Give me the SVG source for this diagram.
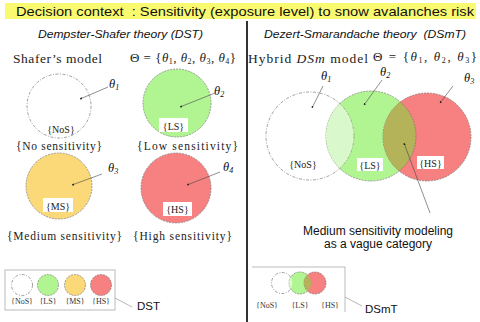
<svg xmlns="http://www.w3.org/2000/svg" width="480" height="322" viewBox="0 0 480 322">
<style>
.sans{font-family:"Liberation Sans",Arial,sans-serif;fill:#111}
.serif{font-family:"Liberation Serif","DejaVu Serif",serif;fill:#222}
.th{font-family:"Liberation Serif","DejaVu Serif",serif;font-style:italic;font-size:12.5px;fill:#111}
.lab{font-family:"Liberation Serif","DejaVu Serif",serif;font-size:10px;fill:#222;text-anchor:middle}
.sm{font-family:"Liberation Serif","DejaVu Serif",serif;font-size:8px;fill:#333;text-anchor:middle}
.cw{fill:#fff;stroke:#777;stroke-width:0.7;stroke-dasharray:3 1.5 1 1.5}
.cg{fill:#b1f592;stroke:#666;stroke-width:0.6;stroke-dasharray:2 1}
.cy{fill:#fbd878;stroke:#666;stroke-width:0.6;stroke-dasharray:2 1}
.cr{fill:#f78080;stroke:#666;stroke-width:0.6;stroke-dasharray:2 1}
.ptr{stroke:#444;stroke-width:0.6;fill:none;marker-end:url(#ah)}
.lead{stroke:#999;stroke-width:0.7;fill:none}
</style>
<defs>
<marker id="ah" viewBox="0 0 6 6" refX="5" refY="3" markerWidth="4" markerHeight="4" orient="auto">
<path d="M0,0 L6,3 L0,6 z" fill="#222"/>
</marker>
<clipPath id="clipW"><circle cx="310" cy="136" r="44"/></clipPath>
<clipPath id="clipG"><circle cx="371" cy="136" r="45"/></clipPath>
<clipPath id="clipR"><circle cx="427" cy="137" r="44"/></clipPath>
<clipPath id="clipWs"><circle cx="282" cy="283" r="10.5"/></clipPath>
<clipPath id="clipRs"><circle cx="315" cy="283" r="11"/></clipPath>
</defs>

<g id="title">
<rect x="5" y="3" width="471" height="16" fill="#fafa70"/>
<text class="sans" x="16" y="15.5" font-size="13.5" textLength="458" lengthAdjust="spacingAndGlyphs">Decision context&#160; : Sensitivity (exposure level) to snow avalanches risk</text>
</g>

<g id="divider"><line x1="247" y1="21" x2="247" y2="322" stroke="#333" stroke-width="2"/></g>

<g id="dst-header">
<text class="sans" x="38" y="38" font-size="11.5" font-style="italic" textLength="165" lengthAdjust="spacingAndGlyphs">Dempster-Shafer theory (DST)</text>
<text class="serif" x="13" y="63" font-size="13.5" textLength="89">Shafer’s model</text>
<text class="serif" x="130" y="62" font-size="13" textLength="106"><tspan>Θ = {</tspan><tspan font-style="italic">θ</tspan><tspan font-size="8" dy="2">1</tspan><tspan dy="-2">, </tspan><tspan font-style="italic">θ</tspan><tspan font-size="8" dy="2">2</tspan><tspan dy="-2">, </tspan><tspan font-style="italic">θ</tspan><tspan font-size="8" dy="2">3</tspan><tspan dy="-2">, </tspan><tspan font-style="italic">θ</tspan><tspan font-size="8" dy="2">4</tspan><tspan dy="-2">}</tspan></text>
</g>

<g id="dst-nos">
<circle class="cw" cx="59" cy="106" r="32"/>
<text class="lab" x="61" y="133">{NoS}</text>
<text class="serif" x="16" y="150" font-size="11.5" textLength="86">{No sensitivity}</text>
<text class="th" x="109" y="88">θ<tspan font-size="8" dy="2">1</tspan></text>
</g>
<g id="dst-ls">
<circle class="cg" cx="177" cy="103" r="34"/>
<rect x="159" y="118" width="29" height="14" fill="#fff"/>
<text class="lab" x="173.5" y="129.5">{LS}</text>
<text class="serif" x="137" y="150" font-size="11.5" textLength="101">{Low sensitivity}</text>
<text class="th" x="214" y="95">θ<tspan font-size="8" dy="2">2</tspan></text>
</g>
<g id="dst-ms">
<circle class="cy" cx="59" cy="186" r="33"/>
<rect x="43" y="198" width="30" height="14" fill="#fff"/>
<text class="lab" x="58" y="209.5">{MS}</text>
<text class="serif" x="7" y="240" font-size="11.5" textLength="115">{Medium sensitivity}</text>
<text class="th" x="108" y="172">θ<tspan font-size="8" dy="2">3</tspan></text>
</g>
<g id="dst-hs">
<circle class="cr" cx="176" cy="188" r="35"/>
<rect x="163" y="202" width="29" height="14" fill="#fff"/>
<text class="lab" x="177.5" y="213">{HS}</text>
<text class="serif" x="133" y="240" font-size="11.5" textLength="99">{High sensitivity}</text>
<text class="th" x="223" y="171">θ<tspan font-size="8" dy="2">4</tspan></text>
</g>

<g id="dsmt-header">
<text class="sans" x="264" y="38" font-size="11.5" font-style="italic" textLength="202" lengthAdjust="spacingAndGlyphs">Dezert-Smarandache theory&#160; (DSmT)</text>
<text class="serif" x="248" y="63" font-size="13.5" textLength="120">Hybrid <tspan font-style="italic">DSm</tspan> model</text>
<text class="serif" x="373" y="61" font-size="13" textLength="104">Θ = {<tspan font-style="italic">θ</tspan><tspan font-size="8" dy="2">1</tspan><tspan dy="-2">, </tspan><tspan font-style="italic">θ</tspan><tspan font-size="8" dy="2">2</tspan><tspan dy="-2">, </tspan><tspan font-style="italic">θ</tspan><tspan font-size="8" dy="2">3</tspan><tspan dy="-2">}</tspan></text>
</g>

<g id="dsmt-nos">
<circle class="cw" cx="310" cy="136" r="44"/>
<text class="th" x="321" y="80">θ<tspan font-size="8" dy="2">1</tspan></text>
</g>
<g id="dsmt-ls">
<circle class="cg" cx="371" cy="136" r="45"/>
<circle cx="371" cy="136" r="45" fill="#d9f8cb" clip-path="url(#clipW)"/>
<circle cx="310" cy="136" r="44" fill="none" stroke="#777" stroke-width="0.5" stroke-dasharray="3 1.5 1 1.5" clip-path="url(#clipG)"/>
<text class="th" x="380" y="76">θ<tspan font-size="8" dy="2">2</tspan></text>
</g>
<g id="dsmt-hs">
<circle class="cr" cx="427" cy="137" r="44"/>
<circle cx="371" cy="136" r="45" fill="#b4b35a" clip-path="url(#clipR)"/>
<circle cx="371" cy="136" r="45" fill="none" stroke="#666" stroke-width="0.5" stroke-dasharray="2 1" clip-path="url(#clipR)"/>
<text class="th" x="464" y="82">θ<tspan font-size="8" dy="2">3</tspan></text>
</g>
<g id="dsmt-labels">
<text class="lab" x="303" y="168">{NoS}</text>
<rect x="357" y="158" width="26" height="13" fill="#fff"/>
<text class="lab" x="370" y="168.5">{LS}</text>
<rect x="417" y="156" width="27" height="13" fill="#fff"/>
<text class="lab" x="430.5" y="166.5">{HS}</text>
</g>
<g id="dsmt-note">
<text class="sans" x="378" y="235" font-size="12" text-anchor="middle">Medium sensitivity modeling</text>
<text class="sans" x="378" y="248" font-size="12" text-anchor="middle">as a vague category</text>
</g>

<g id="legend-dst">
<rect x="5" y="270" width="110" height="40" fill="#fff" stroke="#aaa" stroke-width="0.8"/>
<circle class="cw" cx="22" cy="285" r="10.5"/>
<circle class="cg" cx="48" cy="285" r="10.5"/>
<circle class="cy" cx="75" cy="285" r="10.5"/>
<circle class="cr" cx="101" cy="285" r="10.5"/>
<text class="sm" x="22" y="304">{NoS}</text>
<text class="sm" x="48" y="304">{LS}</text>
<text class="sm" x="75" y="304">{MS}</text>
<text class="sm" x="101" y="304">{HS}</text>
<text class="sans" x="137" y="310" font-size="11.5">DST</text>
</g>

<g id="legend-dsmt">
<path d="M252,267 H345 V312" fill="none" stroke="#aaa" stroke-width="0.8"/>
<circle class="cw" cx="282" cy="283" r="10.5"/>
<circle class="cg" cx="300" cy="283" r="11"/>
<circle cx="300" cy="283" r="11" fill="#d9f8cb" clip-path="url(#clipWs)"/>
<circle class="cr" cx="315" cy="283" r="11"/>
<circle cx="300" cy="283" r="11" fill="#b4b35a" clip-path="url(#clipRs)"/>
<text class="sm" x="267" y="308">{NoS}</text>
<text class="sm" x="300" y="308">{LS}</text>
<text class="sm" x="330" y="308">{HS}</text>
<text class="sans" x="365" y="313" font-size="11.5">DSmT</text>
</g>

<g id="connectors">
<line class="ptr" x1="108" y1="87" x2="80" y2="99"/>
<line class="ptr" x1="215" y1="93" x2="180" y2="107"/>
<line class="ptr" x1="102" y1="174" x2="72" y2="185"/>
<line class="ptr" x1="220" y1="172" x2="187" y2="185"/>
<line class="ptr" x1="323" y1="86" x2="312" y2="108"/>
<line class="ptr" x1="382" y1="80" x2="364" y2="105"/>
<line class="ptr" x1="453" y1="86" x2="440" y2="103"/>
<line class="ptr" x1="430" y1="213" x2="404" y2="143"/>
<line class="lead" x1="115" y1="298" x2="132" y2="307"/>
<line class="lead" x1="345" y1="297" x2="362" y2="306"/>
</g>
</svg>
